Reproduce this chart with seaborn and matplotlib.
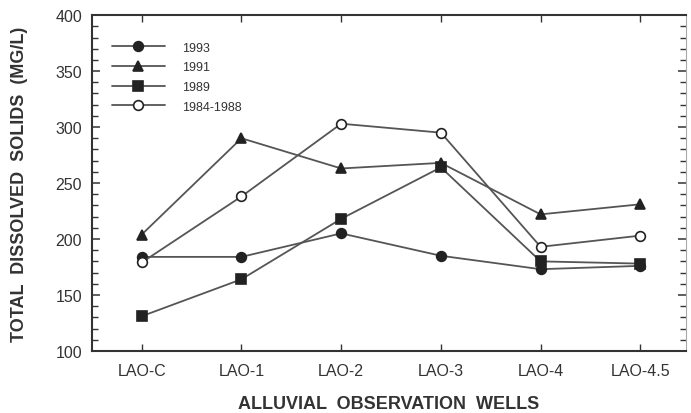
import matplotlib
matplotlib.use("Agg")
import matplotlib.pyplot as plt
from matplotlib.ticker import MultipleLocator
import pandas as pd
import seaborn as sns

wells = ["LAO-C", "LAO-1", "LAO-2", "LAO-3", "LAO-4", "LAO-4.5"]
tds_1993 = [184, 184, 205, 185, 173, 176]
tds_1991 = [204, 290, 263, 268, 222, 231]
tds_1989 = [131, 164, 218, 264, 180, 178]
tds_1984_88 = [179, 238, 303, 295, 193, 203]

series = [
    ("1993", tds_1993, "o", "#222222"),
    ("1991", tds_1991, "^", "#222222"),
    ("1989", tds_1989, "s", "#222222"),
    ("1984-1988", tds_1984_88, "o", "white"),
]

sns.set_style("ticks")
plt.rcParams["font.family"] = ["Liberation Sans", "DejaVu Sans"]

fig = plt.figure(figsize=(6.91, 4.14), dpi=100)
ax = fig.add_axes([0.133, 0.150, 0.860, 0.811])

for name, vals, mk, fc in series:
    df = pd.DataFrame({"well": range(len(wells)), "tds": vals})
    sns.lineplot(data=df, x="well", y="tds", ax=ax, color="#555555", lw=1.3,
                 marker=mk, markersize=7, markerfacecolor=fc,
                 markeredgecolor="#222222", markeredgewidth=1.2, label=name)

ax.set_xlim(-0.5, 5.46)
ax.set_ylim(100, 400)
ax.set_xticks(range(len(wells)))
ax.set_xticklabels(wells)
ax.yaxis.set_major_locator(MultipleLocator(50))
ax.yaxis.set_minor_locator(MultipleLocator(10))
ax.tick_params(axis="both", which="both", direction="in", top=True, right=True,
               colors="#333333", labelcolor="#333333", labelsize=11.5)
ax.tick_params(axis="y", which="major", length=6, width=1.1, pad=7)
ax.tick_params(axis="y", which="minor", length=4, width=1.0)
ax.tick_params(axis="x", which="major", length=5, width=1.0, pad=9)

for side in ["left", "bottom", "top"]:
    ax.spines[side].set_color("#333333")
    ax.spines[side].set_linewidth(1.5)
ax.spines["right"].set_color("#aaaaaa")
ax.spines["right"].set_linewidth(0.8)

ax.set_xlabel("ALLUVIAL  OBSERVATION  WELLS", fontsize=13, fontweight="bold",
              color="#333333", labelpad=12)
ax.set_ylabel("TOTAL  DISSOLVED  SOLIDS  (MG/L)", fontsize=13, fontweight="bold",
              color="#333333", labelpad=20)

leg = ax.legend(loc="upper left", bbox_to_anchor=(0.015, 0.955), frameon=False,
                handlelength=4.2, handletextpad=1.4, labelspacing=0.62,
                fontsize=9)
for t in leg.get_texts():
    t.set_color("#333333")

fig.savefig("out.png", dpi=100)
